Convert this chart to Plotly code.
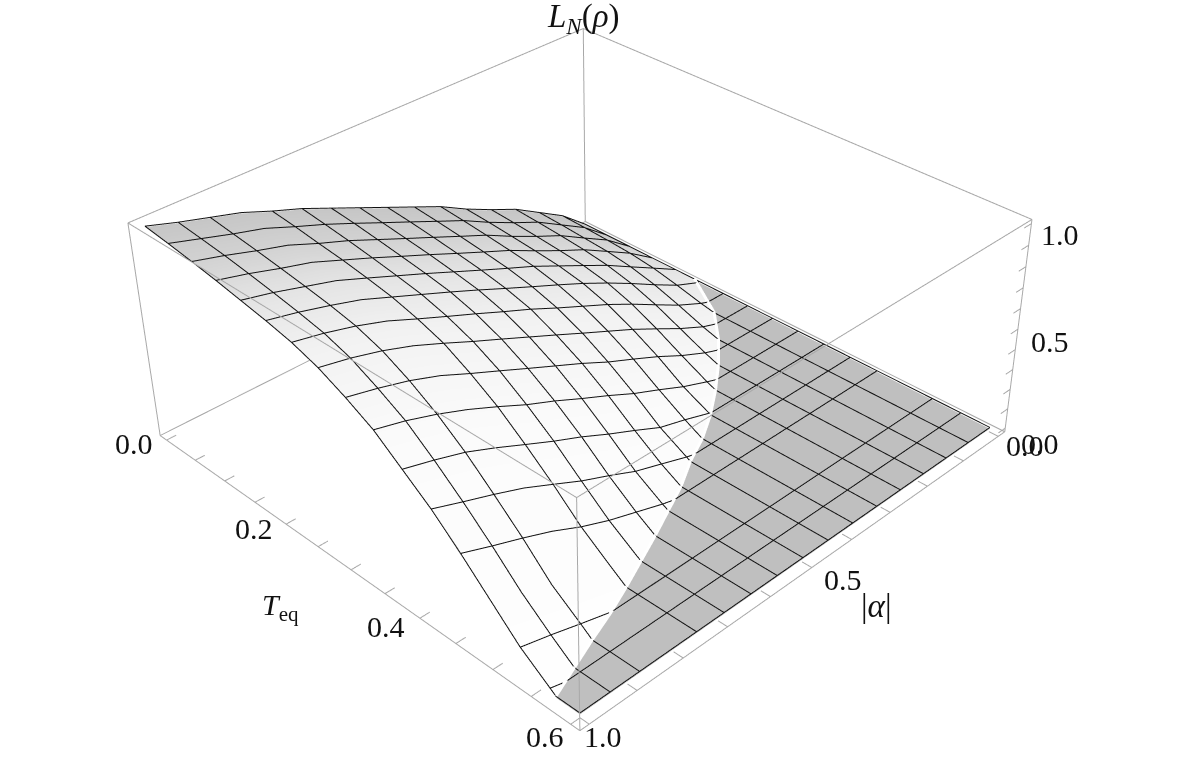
import plotly.graph_objects as go

# axis ranges (Mathematica style padding around the plot range)
t_range = [-0.012, 0.612]
a_range = [-0.02, 1.02]
z_range = [-0.02, 1.02]

# grid of the surface
t_grid = [0.0, 0.0375, 0.075, 0.1125, 0.15, 0.1875, 0.225, 0.2625, 0.3, 0.3375, 0.375, 0.4125, 0.45, 0.4875, 0.525, 0.5625, 0.6]
a_grid = [0.0, 0.0625, 0.125, 0.1875, 0.25, 0.3125, 0.375, 0.4375, 0.5, 0.5625, 0.625, 0.6875, 0.75, 0.8125, 0.875, 0.9375, 1.0]

# T_eq at which L_N reaches zero, one per a_grid entry
t_crit = [0.18, 0.245, 0.286, 0.32, 0.35, 0.377, 0.40, 0.418, 0.44, 0.458, 0.476, 0.493, 0.51, 0.526, 0.54, 0.555, 0.57]

# L_N values, one row per a_grid entry; rows stop where the surface hits zero
z_rows = [
    [0.0],
    [0.11, 0.106, 0.10, 0.091, 0.074, 0.046, 0.014],
    [0.19, 0.184, 0.175, 0.166, 0.147, 0.116, 0.073, 0.025],
    [0.27, 0.262, 0.252, 0.24, 0.221, 0.19, 0.144, 0.086, 0.027],
    [0.33, 0.322, 0.312, 0.30, 0.286, 0.26, 0.216, 0.155, 0.085, 0.019],
    [0.395, 0.387, 0.376, 0.364, 0.35, 0.325, 0.283, 0.223, 0.152, 0.068, 0.004],
    [0.47, 0.459, 0.446, 0.431, 0.414, 0.385, 0.343, 0.284, 0.212, 0.127, 0.047],
    [0.53, 0.518, 0.504, 0.488, 0.47, 0.443, 0.403, 0.345, 0.27, 0.183, 0.085, 0.011],
    [0.59, 0.578, 0.563, 0.546, 0.527, 0.502, 0.466, 0.407, 0.336, 0.248, 0.148, 0.056],
    [0.65, 0.637, 0.621, 0.605, 0.585, 0.562, 0.523, 0.468, 0.397, 0.309, 0.208, 0.10, 0.016],
    [0.71, 0.697, 0.68, 0.662, 0.643, 0.62, 0.582, 0.529, 0.458, 0.373, 0.273, 0.16, 0.06],
    [0.77, 0.755, 0.739, 0.72, 0.699, 0.676, 0.639, 0.589, 0.52, 0.431, 0.331, 0.216, 0.104, 0.012],
    [0.82, 0.807, 0.79, 0.775, 0.755, 0.732, 0.697, 0.652, 0.581, 0.498, 0.394, 0.282, 0.158, 0.058],
    [0.875, 0.862, 0.846, 0.83, 0.81, 0.788, 0.757, 0.712, 0.645, 0.561, 0.458, 0.347, 0.223, 0.102, 0.003],
    [0.915, 0.90, 0.885, 0.868, 0.85, 0.83, 0.804, 0.761, 0.696, 0.616, 0.517, 0.40, 0.277, 0.141, 0.042],
    [0.955, 0.942, 0.928, 0.91, 0.89, 0.868, 0.842, 0.80, 0.736, 0.663, 0.561, 0.449, 0.327, 0.195, 0.083],
    [1.0, 0.984, 0.966, 0.946, 0.923, 0.90, 0.872, 0.83, 0.77, 0.70, 0.60, 0.50, 0.38, 0.25, 0.12, 0.02],
]

# mesh lines that the original leaves out
t_mesh_skip = [0.4875]
a_mesh_skip = [0.8125]

t_ticks = [0.0, 0.05, 0.1, 0.15, 0.2, 0.25, 0.3, 0.35, 0.4, 0.45, 0.5, 0.55, 0.6]
a_ticks = [0.0, 0.1, 0.2, 0.3, 0.4, 0.5, 0.6, 0.7, 0.8, 0.9, 1.0]
z_ticks = [0.0, 0.1, 0.2, 0.3, 0.4, 0.5, 0.6, 0.7, 0.8, 0.9, 1.0]
t_labels = {0.0: "0.0", 0.2: "0.2", 0.4: "0.4", 0.6: "0.6"}
a_labels = {0.0: "0.0", 0.5: "0.5", 1.0: "1.0"}
z_labels = {0.0: "0.0", 0.5: "0.5", 1.0: "1.0"}

z_full = [row + [0.0] * (len(t_grid) - len(row)) for row in z_rows]
t_clip = [[min(t, tc) for t in t_grid] for tc in t_crit]
a_clip = [[a] * len(t_grid) for a in a_grid]

fig = go.Figure()

# scene x is |alpha|, scene y is T_eq
# grey plane where L_N is zero, only beyond the contour
fig.add_trace(go.Surface(
    x=[[a, a] for a in a_grid], y=[[tc, 0.6] for tc in t_crit], z=[[-0.003, -0.003] for a in a_grid],
    colorscale=[[0, "#bfbfbf"], [1, "#bfbfbf"]], showscale=False, hoverinfo="skip",
    lighting=dict(ambient=1, diffuse=0, specular=0, fresnel=0),
))

# white surface, shaded darker towards T_eq = 0
fig.add_trace(go.Surface(
    x=a_clip, y=t_clip, z=z_full, surfacecolor=t_clip, cmin=0, cmax=0.6,
    colorscale=[[0, "#c6c6c6"], [0.12, "#d2d2d2"], [0.25, "#e4e4e4"], [0.4, "#f2f2f2"], [0.6, "#fbfbfb"], [1, "#ffffff"]],
    showscale=False, hoverinfo="skip",
    lighting=dict(ambient=1, diffuse=0, specular=0, fresnel=0),
))

# mesh, with an extra point where each line crosses the zero contour
mx, my, mz = [], [], []
for i, a in enumerate(a_grid):
    if a in a_mesh_skip:
        continue
    for j, t in enumerate(t_grid):
        if j > 0 and t_grid[j - 1] < t_crit[i] < t:
            mx.append(a); my.append(t_crit[i]); mz.append(0.004)
        mx.append(a); my.append(t); mz.append(z_full[i][j] + 0.004)
    mx.append(None); my.append(None); mz.append(None)
for j, t in enumerate(t_grid):
    if t in t_mesh_skip:
        continue
    for i, a in enumerate(a_grid):
        if i > 0 and t_crit[i - 1] < t < t_crit[i]:
            frac = (t - t_crit[i - 1]) / (t_crit[i] - t_crit[i - 1])
            mx.append(a_grid[i - 1] + frac * (a - a_grid[i - 1])); my.append(t); mz.append(0.004)
        mx.append(a); my.append(t); mz.append(z_full[i][j] + 0.004)
    mx.append(None); my.append(None); mz.append(None)
fig.add_trace(go.Scatter3d(x=mx, y=my, z=mz, mode="lines", hoverinfo="skip",
                           line=dict(color="#111111", width=2)))

# white rim along the zero contour
fig.add_trace(go.Scatter3d(x=a_grid, y=t_crit, z=[0.006] * len(a_grid), mode="lines", hoverinfo="skip",
                           line=dict(color="#ffffff", width=6)))

# bounding box, pulled in a hair because lines exactly on the range limit get clipped
t0, t1 = t_range[0] + 0.0006, t_range[1] - 0.0006
a0, a1 = a_range[0] + 0.001, a_range[1] - 0.001
z0, z1 = z_range[0] + 0.001, z_range[1] - 0.001
bx, by, bz = [], [], []
for p, q in [((a0, t0), (a1, t0)), ((a1, t0), (a1, t1)), ((a1, t1), (a0, t1)), ((a0, t1), (a0, t0))]:
    for z in (z0, z1):
        bx += [p[0], q[0], None]; by += [p[1], q[1], None]; bz += [z, z, None]
    bx += [p[0], p[0], None]; by += [p[1], p[1], None]; bz += [z0, z1, None]
for t in t_ticks:
    bx += [a1, a1 - 0.02, None]; by += [t, t, None]; bz += [z0, z0, None]
for a in a_ticks:
    bx += [a, a, None]; by += [t1, t1 - 0.012, None]; bz += [z0, z0, None]
for z in z_ticks:
    bx += [a0, a0 + 0.02, None]; by += [t1, t1, None]; bz += [z, z, None]
fig.add_trace(go.Scatter3d(x=bx, y=by, z=bz, mode="lines", hoverinfo="skip",
                           line=dict(color="#a8a8a8", width=2)))

serif = "Liberation Serif"
tick_font = dict(family=serif, size=30, color="#111111")
title_font = dict(family=serif, size=33, color="#111111")
notes = []
t_shift = {0.0: (-33, -3), 0.2: (-32, -4), 0.4: (-34, -8), 0.6: (-26, -12)}
a_shift = {0.0: (27, -9), 0.5: (31, -12), 1.0: (14, -12)}
z_shift = {0.0: (35, -15), 0.5: (32, -12), 1.0: (29, -11)}
for t, text in t_labels.items():
    notes.append(dict(x=a1, y=t, z=z0, text=text, xshift=t_shift[t][0], yshift=t_shift[t][1], font=tick_font))
for a, text in a_labels.items():
    notes.append(dict(x=a, y=t1, z=z0, text=text, xshift=a_shift[a][0], yshift=a_shift[a][1], font=tick_font))
for z, text in z_labels.items():
    notes.append(dict(x=a0, y=t1, z=z, text=text, xshift=z_shift[z][0], yshift=z_shift[z][1], font=tick_font))
notes.append(dict(x=a0, y=t0, z=z1, text="<i>L</i><sub><i>N</i></sub>(<i>ρ</i>)", xshift=0, yshift=10, font=title_font))
notes.append(dict(x=a1, y=0.3, z=z0, text="<i>T</i><sub>eq</sub>", xshift=-71, yshift=-37, font=tick_font))
notes.append(dict(x=0.5, y=t1, z=z0, text="|<i>α</i>|", xshift=65, yshift=-38, font=title_font))
for n in notes:
    n.update(showarrow=False, xanchor="center", yanchor="middle")

hidden = dict(visible=False)
fig.update_layout(
    width=1234, height=1735,
    margin=dict(l=0, r=0, t=0, b=0),
    paper_bgcolor="white",
    showlegend=False,
    scene=dict(
        domain=dict(x=[0, 1], y=[0, 1]),
        xaxis=dict(range=a_range, **hidden),
        yaxis=dict(range=t_range, **hidden),
        zaxis=dict(range=z_range, **hidden),
        aspectmode="manual",
        aspectratio=dict(x=1, y=1, z=0.41),
        camera=dict(eye=dict(x=1.9807, y=2.0327, z=1.8474),
                    center=dict(x=-0.0138, y=0.0685, z=-0.057),
                    up=dict(x=0, y=0, z=1)),
        annotations=notes,
    ),
)

# plotly's field of view is fixed, so the flatter perspective needs a taller canvas pushed up the page
fig.write_html("out.html", post_script=(
    "document.documentElement.style.overflow='hidden';"
    "document.body.style.overflow='hidden';"
    "document.body.style.margin='0';"
    "var gd=document.getElementById('{plot_id}');"
    "gd.style.marginTop='-494px';gd.style.marginLeft='1px';"
))
